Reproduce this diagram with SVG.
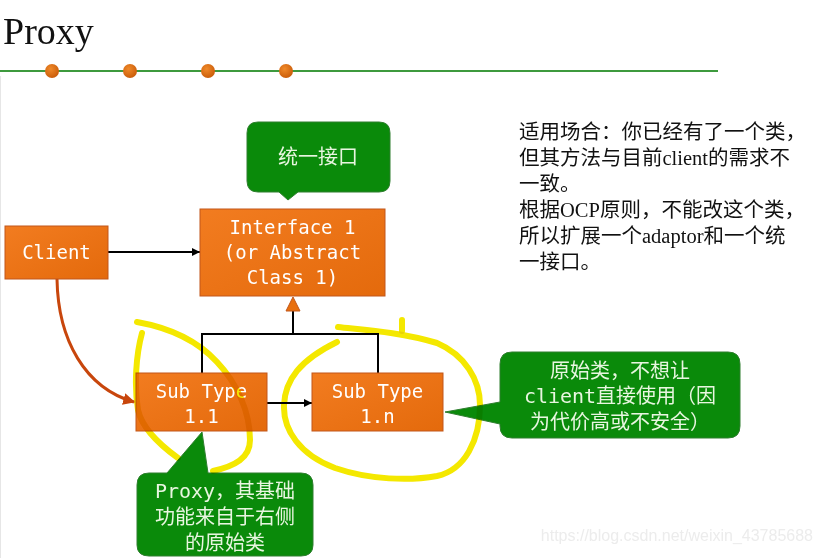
<svg xmlns="http://www.w3.org/2000/svg" width="824" height="558" viewBox="0 0 824 558">
<defs>
<linearGradient id="og" x1="0" y1="0" x2="1" y2="1"><stop offset="0" stop-color="#f27c20"/><stop offset="1" stop-color="#e46a0c"/></linearGradient>
<radialGradient id="dot" cx="0.4" cy="0.35" r="0.7"><stop offset="0" stop-color="#f08a2a"/><stop offset="1" stop-color="#c85a08"/></radialGradient>
<marker id="ab" viewBox="0 0 10 10" refX="10" refY="5" markerWidth="8" markerHeight="8" markerUnits="userSpaceOnUse" orient="auto"><path d="M0,0 L10,5 L0,10 Z" fill="#000"/></marker>
<marker id="ar" viewBox="0 0 10 10" refX="9" refY="5" markerWidth="12" markerHeight="12" markerUnits="userSpaceOnUse" orient="auto"><path d="M0,0 L10,5 L0,10 Z" fill="#c8460c"/></marker>
</defs>
<style>
.box{fill:url(#og);stroke:#c2571a;stroke-width:1}
.bt{font-family:"DejaVu Sans Mono","Noto Sans CJK SC",monospace;font-size:19px;fill:#fff;text-anchor:middle}
.call{fill:#0a8a0a;stroke:#2f7f2f;stroke-width:1}
.ct{font-family:"DejaVu Sans Mono","Noto Sans CJK SC",monospace;font-size:20px;fill:#e8f6e0;text-anchor:middle}
.note{font-family:"Liberation Serif","Noto Sans CJK SC",serif;font-size:20.5px;fill:#111}
.line{stroke:#000;stroke-width:2;fill:none}
.hl{fill:none;stroke:#f4e800;stroke-width:6;stroke-linecap:round;stroke-linejoin:round;mix-blend-mode:multiply}
</style>
<rect width="824" height="558" fill="#fff"/>
<line x1="0.5" y1="76" x2="0.5" y2="558" stroke="#e6e6e6" stroke-width="1"/>
<text x="3" y="44" font-family="Liberation Serif, serif" font-size="38" fill="#111">Proxy</text>
<line x1="0" y1="71" x2="718" y2="71" stroke="#3e9a3e" stroke-width="2"/>
<circle cx="52" cy="71" r="7" fill="url(#dot)"/>
<circle cx="130" cy="71" r="7" fill="url(#dot)"/>
<circle cx="208" cy="71" r="7" fill="url(#dot)"/>
<circle cx="286" cy="71" r="7" fill="url(#dot)"/>

<g id="connectors">
<line class="line" x1="108" y1="252" x2="200" y2="252" marker-end="url(#ab)"/>
<line class="line" x1="267" y1="403" x2="312" y2="403" marker-end="url(#ab)"/>
<polyline class="line" points="202,373 202,334 378,334 378,373"/>
<line class="line" x1="293" y1="334" x2="293" y2="310" stroke-width="3"/>
<path d="M293,297 L300,311 L286,311 Z" fill="#e8700f" stroke="#c2571a" stroke-width="1"/>
<path d="M57,279 C58,340 85,388 134,402" fill="none" stroke="#c8460c" stroke-width="3" marker-end="url(#ar)"/>
</g>

<g id="client">
<rect class="box" x="5" y="226" width="103" height="53"/>
<text class="bt" x="56.5" y="259">Client</text>
</g>
<g id="interface1">
<rect class="box" x="200" y="209" width="185" height="87"/>
<text class="bt" x="292.5" y="234">Interface 1</text>
<text class="bt" x="292.5" y="259">(or Abstract</text>
<text class="bt" x="292.5" y="284">Class 1)</text>
</g>
<g id="subtype11">
<rect class="box" x="136" y="373" width="131" height="58"/>
<text class="bt" x="201.5" y="398">Sub Type</text>
<text class="bt" x="201.5" y="423">1.1</text>
</g>
<g id="subtype1n">
<rect class="box" x="312" y="373" width="131" height="58"/>
<text class="bt" x="377.5" y="398">Sub Type</text>
<text class="bt" x="377.5" y="423">1.n</text>
</g>

<g id="callout-interface">
<path class="call" d="M258,122 H379 Q390,122 390,133 V181 Q390,192 379,192 H298 L288,200 L279,192 H258 Q247,192 247,181 V133 Q247,122 258,122 Z"/>
<text class="ct" x="318" y="164">统一接口</text>
</g>
<g id="callout-original">
<path class="call" d="M512,352 H728 Q740,352 740,364 V426 Q740,438 728,438 H512 Q500,438 500,426 V424 L445,412 L500,402 V364 Q500,352 512,352 Z"/>
<text class="ct" x="620" y="378">原始类，不想让</text>
<text class="ct" x="620" y="403">client直接使用（因</text>
<text class="ct" x="620" y="429">为代价高或不安全）</text>
</g>
<g id="callout-proxy">
<path class="call" d="M149,473 H167 L202,432 L208,473 H301 Q313,473 313,485 V545 Q313,556 301,556 H149 Q137,556 137,545 V485 Q137,473 149,473 Z"/>
<text class="ct" x="225" y="498">Proxy，其基础</text>
<text class="ct" x="225" y="524">功能来自于右侧</text>
<text class="ct" x="225" y="550">的原始类</text>
</g>

<g id="note">
<text class="note" x="519" y="139">适用场合：你已经有了一个类，</text>
<text class="note" x="519" y="165">但其方法与目前client的需求不</text>
<text class="note" x="519" y="191">一致。</text>
<text class="note" x="519" y="217">根据OCP原则，不能改这个类，</text>
<text class="note" x="519" y="243">所以扩展一个adaptor和一个统</text>
<text class="note" x="519" y="269">一接口。</text>
</g>

<g id="highlights">
<path class="hl" d="M137,322 C165,327 195,338 217,362 C237,383 250,412 250,440 C250,458 235,466 213,471"/>
<path class="hl" d="M142,333 C136,355 134,385 138,410 C142,428 160,445 178,458"/>
<path class="hl" d="M338,327 C365,330 400,332 437,343 C465,355 480,380 480,405 C480,440 465,470 437,476 C410,481 370,480 335,468 C300,455 283,430 284,405 C285,380 300,360 337,342"/>
<path class="hl" d="M402,320 L402,331" stroke-width="3"/>
</g>

<text x="813" y="541" text-anchor="end" font-family="Liberation Sans, sans-serif" font-size="16" fill="#ececec">https://blog.csdn.net/weixin_43785688</text>
</svg>
